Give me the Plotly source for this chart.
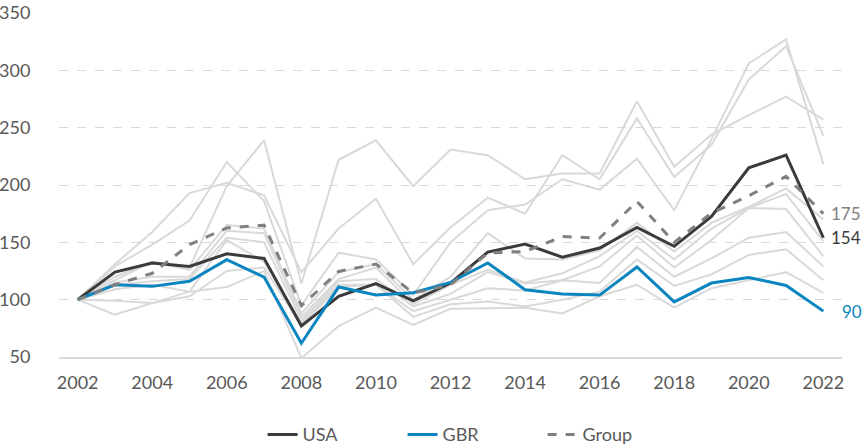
import plotly.graph_objects as go

years = list(range(2002, 2023))

usa = [100, 124, 132, 129, 140, 136, 77, 103, 114, 99, 114.5, 141.5, 148.5, 137, 145, 163, 146.5, 172.5, 215, 226, 154]
gbr = [100, 113, 111.6, 116, 134.8, 119.7, 62, 111, 104, 106, 115, 132, 108.7, 105, 104, 128.5, 98, 114.5, 119.4, 112.4, 90]
group = [100, 113, 123, 148, 162.5, 165, 94.7, 124.6, 131, 105.8, 113, 140.7, 142, 155, 153.7, 185.7, 150, 175.5, 190.6, 207.5, 175]

gray_a = [100, 120, 133, 128, 199, 239, 114, 222, 239, 199, 231, 226, 205, 210, 210, 273, 216, 244, 261, 277, 257]
gray_b = [100, 131, 159, 193, 202, 191, 124, 162, 188, 131, 163, 189, 175, 226, 205, 258, 207, 235, 292, 321, 243]
gray_c = [100, 129, 148, 169, 220, 186, 95, 141, 135, 104, 150, 178, 183, 205, 196, 223, 178, 240, 306, 327, 218]
gray_d = [100, 117, 133, 126, 165, 162, 88, 124, 131, 100, 120, 158, 136, 135, 143, 167, 142, 167, 181, 197, 170]
gray_e = [100, 115, 120, 120, 160, 158, 85, 118, 128, 96, 113, 126, 115, 123, 138, 160, 135, 162, 180, 192, 151]
gray_f = [100, 113, 116, 118, 154, 150, 82, 116, 118, 94, 105, 124, 114, 117, 129, 156, 128, 152, 180, 179, 138]
gray_g = [100, 109, 113, 107, 152, 133, 80, 113, 113, 90, 100, 110, 108, 117, 114.5, 146, 120, 136, 154, 159, 129]
gray_h = [100, 99, 97, 103, 125, 128, 78, 111, 113, 85, 96, 98.5, 94, 100, 107, 135, 112, 122, 139, 144, 117]
gray_i = [100, 87, 97, 107, 111, 125, 49, 77, 93, 78, 92, 92.7, 93, 88, 103, 113, 93, 110, 117, 124, 106]

gray_series = [gray_a, gray_b, gray_c, gray_d, gray_e, gray_f, gray_g, gray_h, gray_i]

x_ticks = list(range(2002, 2023, 2))
y_ticks = [50, 100, 150, 200, 250, 300, 350]

FONT = "Lato"
LABEL_COLOR = "#595959"
USA_COLOR = "#3b3b3b"
GBR_COLOR = "#0a85bf"
GROUP_COLOR = "#808080"
GRAY = "#d9d9d9"

fig = go.Figure()

for s in gray_series:
    fig.add_trace(go.Scatter(x=years, y=s, mode="lines",
                             line=dict(color=GRAY, width=2),
                             showlegend=False, hoverinfo="skip"))

fig.add_trace(go.Scatter(x=years, y=usa, mode="lines", name="USA",
                         line=dict(color=USA_COLOR, width=3)))
fig.add_trace(go.Scatter(x=years, y=gbr, mode="lines", name="GBR",
                         line=dict(color=GBR_COLOR, width=3)))
fig.add_trace(go.Scatter(x=years, y=group, mode="lines", name="Group",
                         line=dict(color=GROUP_COLOR, width=3, dash="dash")))

# end labels
fig.add_annotation(x=years[-1], y=group[-1], text=f"{group[-1]:.0f}", showarrow=False,
                   xanchor="left", xshift=6, font=dict(color=GROUP_COLOR, size=17, family=FONT))
fig.add_annotation(x=years[-1], y=usa[-1], text=f"{usa[-1]:.0f}", showarrow=False,
                   xanchor="left", xshift=6, font=dict(color=USA_COLOR, size=17, family=FONT))
fig.add_annotation(x=years[-1], y=gbr[-1], text=f"{gbr[-1]:.0f}", showarrow=False,
                   xanchor="left", xshift=17, font=dict(color=GBR_COLOR, size=17, family=FONT))

fig.update_layout(
    width=862, height=447,
    margin=dict(l=59, r=20, t=13, b=90, autoexpand=False),
    paper_bgcolor="white", plot_bgcolor="white",
    font=dict(family=FONT, size=18, color=LABEL_COLOR),
    legend=dict(orientation="h", x=0.26, xanchor="left", y=-0.226, yanchor="middle",
                font=dict(size=18, color=LABEL_COLOR, family=FONT),
                entrywidth=95, entrywidthmode="pixels"),
    xaxis=dict(range=[2001.5, 2022.5], tickvals=x_ticks, ticktext=[str(v) for v in x_ticks],
               showgrid=False, zeroline=False, showline=True, linecolor=GRAY, linewidth=2,
               ticks="", ticklabelstandoff=8, automargin=False,
               tickfont=dict(size=18, color=LABEL_COLOR)),
    yaxis=dict(range=[50, 350], tickvals=y_ticks, showgrid=True, gridcolor=GRAY,
               griddash="dash", gridwidth=1, zeroline=False, showline=False,
               ticks="outside", ticklen=24, tickcolor="rgba(0,0,0,0)", automargin=False,
               tickfont=dict(size=18, color=LABEL_COLOR)),
)

fig.write_html("out.html", config={"displayModeBar": False},
               post_script="document.body.style.margin='0';")
